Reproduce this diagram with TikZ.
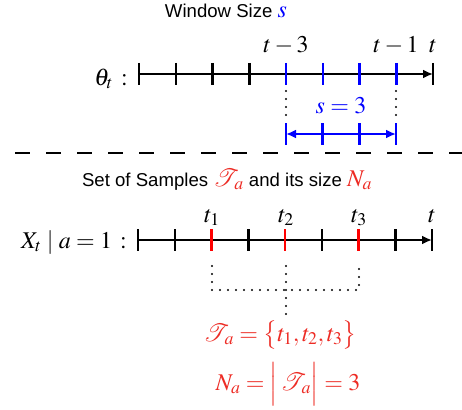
\documentclass[tikz,border=0pt]{standalone}
\usepackage{mathptmx}
\usepackage{mathrsfs}
\usepackage[no-math]{fontspec}
\setmainfont{Liberation Sans}
\usetikzlibrary{arrows.meta}
\definecolor{tred}{RGB}{237,43,36}
\definecolor{tickred}{RGB}{255,0,0}
\definecolor{wblue}{RGB}{0,0,255}
\newcommand{\mfs}{\fontsize{24}{28}\selectfont}
\newcommand{\scT}{\mathscr{T}_{\hspace{2.5pt}a}}
\begin{document}
\begin{tikzpicture}[x=1pt,y=-1pt,
  axisline/.style={line width=2.5pt,-{Latex[length=10pt,width=9pt]}},
  tick/.style={line width=2.5pt},
  dotline/.style={line width=2.3pt,line cap=round,dash pattern=on 0pt off 8pt},
  sep/.style={line width=2.6pt,dash pattern=on 15pt off 16pt},
  txt/.style={inner sep=0pt,font=\fontsize{18.6}{22}\selectfont},
  mth/.style={inner sep=0pt,font=\mfs}]
\useasboundingbox (0,0) rectangle (462,409);
% ---------- top part ----------
\node[txt,anchor=base] (title1) at (226,18) {Window Size {\mfs$\color{wblue}s$}};
\coordinate (a0) at (139,74);
\coordinate (a8) at (433,74);
\draw[axisline] (a0) -- (a8);
\foreach \i in {0,...,3} \draw[tick] ([shift={(36.75*\i,-11)}]a0) -- ([shift={(36.75*\i,11)}]a0);
\foreach \i in {4,...,7} \draw[tick,wblue] ([shift={(36.75*\i,-11)}]a0) -- ([shift={(36.75*\i,11)}]a0);
\draw[tick] ([shift={(0,-11)}]a8) -- ([shift={(0,11)}]a8);
\node[mth,anchor=base east] (thl) at (128,85) {$\theta_{t}\,:$};
\node[mth,anchor=base] (lt3) at (286,53) {$t-3$};
\node[mth,anchor=base] (lt1) at (396,53) {$t-1$};
\node[mth,anchor=base] (ltt) at (433,53) {$t$};
\coordinate (d1a) at (286,91); \coordinate (d1b) at (286,116);
\coordinate (d2a) at (396,91); \coordinate (d2b) at (396,116);
\draw[dotline] (d1a) -- (d1b);
\draw[dotline] (d2a) -- (d2b);
\node[mth,anchor=base,wblue] (s3) at (341,113) {$s=3$};
\coordinate (b0) at (286,134);
\coordinate (b3) at (396,134);
\draw[wblue,line width=2.5pt,{Latex[length=10pt,width=9pt]}-{Latex[length=10pt,width=9pt]}] (b0) -- (b3);
\foreach \i in {0,...,3} \draw[tick,wblue] ([shift={(36.67*\i,-11)}]b0) -- ([shift={(36.67*\i,11)}]b0);
% ---------- separator ----------
\coordinate (sepL) at (15,153);
\coordinate (sepR) at (462,153);
\draw[sep] (sepL) -- (sepR);
% ---------- bottom part ----------
\node[txt,anchor=base] (title2) at (227,186) {Set of Samples {\mfs$\color{tred}\scT$} and its size {\mfs$\color{tred}N_a$}};
\coordinate (c0) at (138,240);
\coordinate (c8) at (432,240);
\draw[axisline] (c0) -- (c8);
\foreach \i in {0,1,3,5,7} \draw[tick] ([shift={(36.75*\i,-11)}]c0) -- ([shift={(36.75*\i,11)}]c0);
\foreach \i in {2,4,6} \draw[tick,tickred] ([shift={(36.75*\i,-11)}]c0) -- ([shift={(36.75*\i,11)}]c0);
\draw[tick] ([shift={(0,-11)}]c8) -- ([shift={(0,11)}]c8);
\node[mth,anchor=base east] (xl) at (127,248) {$X_t\mid a=1\,:$};
\node[mth,anchor=base] (lb1) at (212,222) {$t_1$};
\node[mth,anchor=base] (lb2) at (286,222) {$t_2$};
\node[mth,anchor=base] (lb3) at (359,222) {$t_3$};
\node[mth,anchor=base] (lbt) at (432,222) {$t$};
\coordinate (e1) at (212,266); \coordinate (f1) at (212,290);
\coordinate (e2) at (286,266); \coordinate (f2) at (286,290);
\coordinate (e3) at (359,266); \coordinate (f3) at (359,290);
\coordinate (g2) at (286,315);
\draw[dotline] (e1) -- (f1) -- (f3) -- (e3);
\draw[dotline] (e2) -- (f2) -- (g2);
\node[mth,anchor=base,tred] (setT) at (280,341) {$\scT=\big\{t_1,t_2,t_3\big\}$};
\node[mth,anchor=base,tred] (setN) at (288,390) {$N_a=\Big|\,\scT\Big|=3$};
\end{tikzpicture}
\end{document}
